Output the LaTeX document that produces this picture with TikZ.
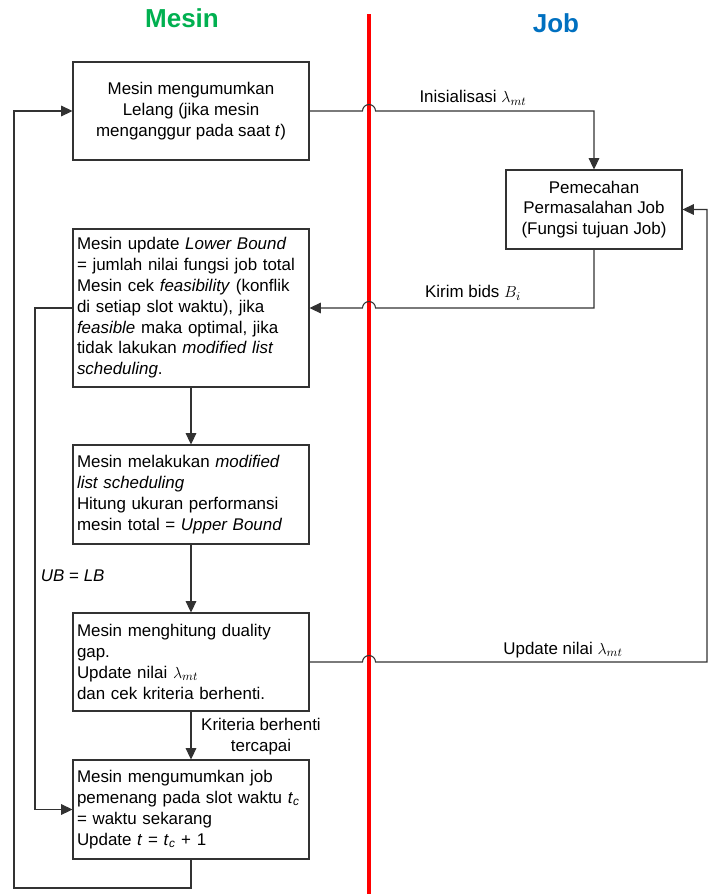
\documentclass[tikz,border=0pt]{standalone}
\usepackage{fontspec}
\setmainfont{Liberation Sans}
\usetikzlibrary{arrows.meta}
\definecolor{mesingreen}{RGB}{0,176,80}
\definecolor{jobblue}{RGB}{0,112,192}
\definecolor{garis}{RGB}{50,50,50}

\begin{document}
\begin{tikzpicture}[x=0.75pt,y=-0.75pt,line width=0.8pt,
  >={Triangle[length=8.5pt,width=8pt]},
  every node/.style={font=\fontsize{12.7}{15.6}\selectfont},
  kotak/.style={draw=garis,rectangle,minimum width=177pt,inner xsep=3pt,inner ysep=0pt},
  kiri/.style={kotak,text width=171pt,align=left},
  judul/.style={font=\fontsize{19.5}{23}\selectfont\bfseries},
  alur/.style={draw=garis,->}]
  \useasboundingbox (0,0) rectangle (709,894);

  % judul kolom dan garis pemisah
  \node[judul,text=mesingreen] (tmesin) at (182,18) {Mesin};
  \node[judul,text=jobblue] (tjob) at (556,23) {Job};
  \coordinate (batasatas) at (369,14);
  \coordinate (batasbawah) at (369,894);
  \draw[red,line width=3.5pt] (batasatas) -- (batasbawah);

  % kotak proses
  \node[kotak,align=center,minimum height=73.5pt] (lelang) at (191,111)
    {Mesin mengumumkan\\Lelang (jika mesin\\menganggur pada saat \textit{t})};
  \node[kotak,align=center,minimum width=132pt,minimum height=59.25pt] (pecah) at (594,209.5)
    {Pemecahan\\Permasalahan Job\\(Fungsi tujuan Job)};
  \node[kiri,minimum height=118.5pt] (update) at (191,308)
    {Mesin update \textit{Lower Bound}\\= jumlah nilai fungsi job total\\Mesin cek \textit{feasibility} (konflik\\di setiap slot waktu), jika\\\textit{feasible} maka optimal, jika\\tidak lakukan \textit{modified list}\\\textit{scheduling}.};
  \node[kiri,minimum height=74.25pt] (lakukan) at (191,494.5)
    {Mesin melakukan \textit{modified}\\\textit{list scheduling}\\Hitung ukuran performansi\\mesin total = \textit{Upper Bound}};
  \node[kiri,minimum height=73.5pt] (gap) at (191,662)
    {Mesin menghitung duality\\gap.\\Update nilai $\lambda_{mt}$\\dan cek kriteria berhenti.};
  \node[kiri,minimum height=74.25pt] (umum) at (191,809.5)
    {Mesin mengumumkan job\\pemenang pada slot waktu \textit{t}\textsubscript{\textit{c}}\\= waktu sekarang\\Update \textit{t} = \textit{t}\textsubscript{\textit{c}} + 1};

  % label
  \node (lbinit) at (473,98) {Inisialisasi $\lambda_{mt}$};
  \node (lbkirim) at (473,293) {Kirim bids $B_i$};
  \node (lbupdate) at (563,650) {Update nilai $\lambda_{mt}$};
  \node[anchor=west] (lbub) at (36,576) {\textit{UB} = \textit{LB}};
  \node[align=center] (lbkriteria) at (261,737) {Kriteria berhenti\\tercapai};

  % alur
  \foreach \atas/\bawah in {update/lakukan, lakukan/gap, gap/umum} {
    \draw[alur] (\atas) -- (\bawah);
  }
  \draw[alur] (lelang.east) -- (362.5,111) arc[start angle=180,end angle=360,radius=6.5]
    -- (594,111) -- (pecah.north);
  \draw[alur] (pecah.south) -- (594,308) -- (375.5,308) arc[start angle=0,end angle=-180,radius=6.5]
    -- (update.east);
  \draw[alur] (gap.east) -- (362.5,662) arc[start angle=180,end angle=360,radius=6.5]
    -- (707,662) -- (707,209.5) -- (pecah.east);
  \draw[alur] (update.west) -- (35,308) -- (35,809.5) -- (umum.west);
  \draw[alur] (umum.south) -- (191,888) -- (14,888) -- (14,111) -- (lelang.west);
\end{tikzpicture}
\end{document}
